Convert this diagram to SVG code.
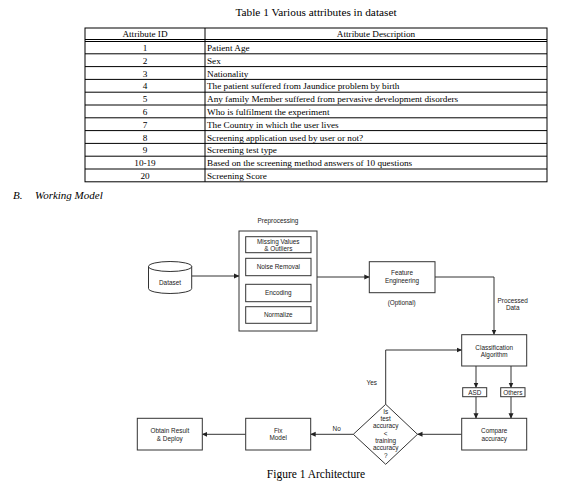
<svg xmlns="http://www.w3.org/2000/svg" width="566" height="488" viewBox="0 0 566 488">
<style>
.serif{font-family:"Liberation Serif","Times New Roman",serif;fill:#000}
.tbl{font-size:9.2px}
.sans{font-family:"Liberation Sans",Arial,sans-serif;font-size:6.4px;fill:#222;text-anchor:middle}
.grid line{stroke:#000;stroke-width:1}
.box{fill:#fff;stroke:#333;stroke-width:1}
.con path{fill:none;stroke:#333;stroke-width:1}
</style>
<defs>
<marker id="ah" markerWidth="6" markerHeight="6" refX="5" refY="3" orient="auto" markerUnits="userSpaceOnUse">
<path d="M0,0.5 L5.5,3 L0,5.5 z" fill="#222"/>
</marker>
</defs>
<rect width="566" height="488" fill="#fff"/>

<text class="serif" x="316" y="16" font-size="11.3" text-anchor="middle">Table 1 Various attributes in dataset</text>

<g id="table">
<rect x="85" y="28" width="462" height="153.8" fill="none" stroke="#000" stroke-width="1"/>
<g class="grid">
<line x1="205" y1="28" x2="205" y2="181.8"/>
<line x1="85" y1="39.5" x2="547" y2="39.5"/>
<line x1="85" y1="41.5" x2="547" y2="41.5"/>
<line x1="85" y1="53.8" x2="547" y2="53.8"/>
<line x1="85" y1="66.6" x2="547" y2="66.6"/>
<line x1="85" y1="79.4" x2="547" y2="79.4"/>
<line x1="85" y1="92.2" x2="547" y2="92.2"/>
<line x1="85" y1="105" x2="547" y2="105"/>
<line x1="85" y1="117.8" x2="547" y2="117.8"/>
<line x1="85" y1="130.6" x2="547" y2="130.6"/>
<line x1="85" y1="143.4" x2="547" y2="143.4"/>
<line x1="85" y1="156.2" x2="547" y2="156.2"/>
<line x1="85" y1="169" x2="547" y2="169"/>
</g>
<g class="serif tbl" text-anchor="middle">
<text x="145" y="37">Attribute ID</text>
<text x="376" y="37">Attribute Description</text>
<text x="145" y="51">1</text>
<text x="145" y="63.8">2</text>
<text x="145" y="76.6">3</text>
<text x="145" y="89.4">4</text>
<text x="145" y="102.2">5</text>
<text x="145" y="115">6</text>
<text x="145" y="127.8">7</text>
<text x="145" y="140.6">8</text>
<text x="145" y="153.4">9</text>
<text x="145" y="166.2">10-19</text>
<text x="145" y="179">20</text>
</g>
<g class="serif tbl">
<text x="207" y="51">Patient Age</text>
<text x="207" y="63.8">Sex</text>
<text x="207" y="76.6">Nationality</text>
<text x="207" y="89.4">The patient suffered from Jaundice problem by birth</text>
<text x="207" y="102.2">Any family Member suffered from pervasive development disorders</text>
<text x="207" y="115">Who is fulfilment the experiment</text>
<text x="207" y="127.8">The Country in which the user lives</text>
<text x="207" y="140.6">Screening application used by user or not?</text>
<text x="207" y="153.4">Screening test type</text>
<text x="207" y="166.2">Based on the screening method answers of 10 questions</text>
<text x="207" y="179">Screening Score</text>
</g>
</g>

<text class="serif" x="13" y="199" font-size="11" font-style="italic">B.</text>
<text class="serif" x="35" y="199" font-size="11" font-style="italic">Working Model</text>

<g class="con" id="connectors">
<path d="M191.7,276 H239" marker-end="url(#ah)"/>
<path d="M317,277 H369.3" marker-end="url(#ah)"/>
<path d="M435,277 H494 V334.5" marker-end="url(#ah)"/>
<path d="M476,366 V387.5" marker-end="url(#ah)"/>
<path d="M511,366 V387.5" marker-end="url(#ah)"/>
<path d="M476,396.7 V418.3" marker-end="url(#ah)"/>
<path d="M511,396.7 V418.3" marker-end="url(#ah)"/>
<path d="M461.7,434.3 H417.5" marker-end="url(#ah)"/>
<path d="M353.3,434.3 H310.7" marker-end="url(#ah)"/>
<path d="M245.7,434.3 H202.3" marker-end="url(#ah)"/>
<path d="M385.7,404.3 V350 H461.7" marker-end="url(#ah)"/>
</g>

<g id="dataset">
<path class="box" d="M148.5,266.5 a21.6,5 0 0,1 43.2,0 v22 a21.6,5 0 0,1 -43.2,0 z"/>
<path d="M148.5,266.5 a21.6,5 0 0,0 43.2,0" fill="none" stroke="#333" stroke-width="1"/>
<text class="sans" x="170" y="284.5">Dataset</text>
</g>

<g id="preprocessing">
<text class="sans" x="278" y="223">Preprocessing</text>
<rect class="box" x="239" y="231" width="78" height="100"/>
<rect class="box" x="245.7" y="236.7" width="65.3" height="16"/>
<text class="sans" x="278.3" y="243.5">Missing Values</text>
<text class="sans" x="278.3" y="250.5">&amp; Outliers</text>
<rect class="box" x="245.7" y="258.3" width="65.3" height="17.4"/>
<text class="sans" x="278.3" y="269">Noise Removal</text>
<rect class="box" x="245.7" y="284.3" width="65.3" height="17.4"/>
<text class="sans" x="278.3" y="295.2">Encoding</text>
<rect class="box" x="245.7" y="306.7" width="65.3" height="16.6"/>
<text class="sans" x="278.3" y="317.3">Normalize</text>
</g>

<g id="feature">
<rect class="box" x="369.3" y="261.7" width="65.7" height="31"/>
<text class="sans" x="402" y="275.3">Feature</text>
<text class="sans" x="402" y="282.6">Engineering</text>
<text class="sans" x="401.7" y="304.5">(Optional)</text>
</g>

<text class="sans" x="512.7" y="302.5">Processed</text>
<text class="sans" x="512.7" y="309.8">Data</text>

<g id="classification">
<rect class="box" x="461.7" y="334.7" width="65" height="31.3"/>
<text class="sans" x="494.2" y="349.5">Classification</text>
<text class="sans" x="494.2" y="357">Algorithm</text>
</g>

<g id="asd">
<rect class="box" x="462.7" y="387.7" width="24" height="9"/>
<text class="sans" x="474.7" y="394.6">ASD</text>
</g>
<g id="others">
<rect class="box" x="500.7" y="387.7" width="24.3" height="9"/>
<text class="sans" x="512.8" y="394.6">Others</text>
</g>

<g id="compare">
<rect class="box" x="461.7" y="418.3" width="65" height="31.7"/>
<text class="sans" x="494.2" y="433.2">Compare</text>
<text class="sans" x="494.2" y="440.9">accuracy</text>
</g>

<g id="decision">
<path class="box" d="M385.7,404.3 L417.5,434.3 L385.7,464.3 L353.3,434.3 z"/>
<text class="sans" x="385.7" y="413.8">Is</text>
<text class="sans" x="385.7" y="421.1">test</text>
<text class="sans" x="385.7" y="428.4">accuracy</text>
<text class="sans" x="385.7" y="435.7">&lt;</text>
<text class="sans" x="385.7" y="443">training</text>
<text class="sans" x="385.7" y="450.3">accuracy</text>
<text class="sans" x="385.7" y="457.6">?</text>
</g>
<text class="sans" x="371.7" y="384.8">Yes</text>
<text class="sans" x="336.7" y="430.8">No</text>

<g id="fix">
<rect class="box" x="245.7" y="418.3" width="65" height="31.7"/>
<text class="sans" x="278.2" y="432.5">Fix</text>
<text class="sans" x="278.2" y="439.9">Model</text>
</g>

<g id="obtain">
<rect class="box" x="137.3" y="418.3" width="65" height="31.7"/>
<text class="sans" x="169.8" y="433.2">Obtain Result</text>
<text class="sans" x="169.8" y="440.9">&amp; Deploy</text>
</g>

<text class="serif" x="316" y="477.5" font-size="11.5" text-anchor="middle">Figure 1 Architecture</text>
</svg>
